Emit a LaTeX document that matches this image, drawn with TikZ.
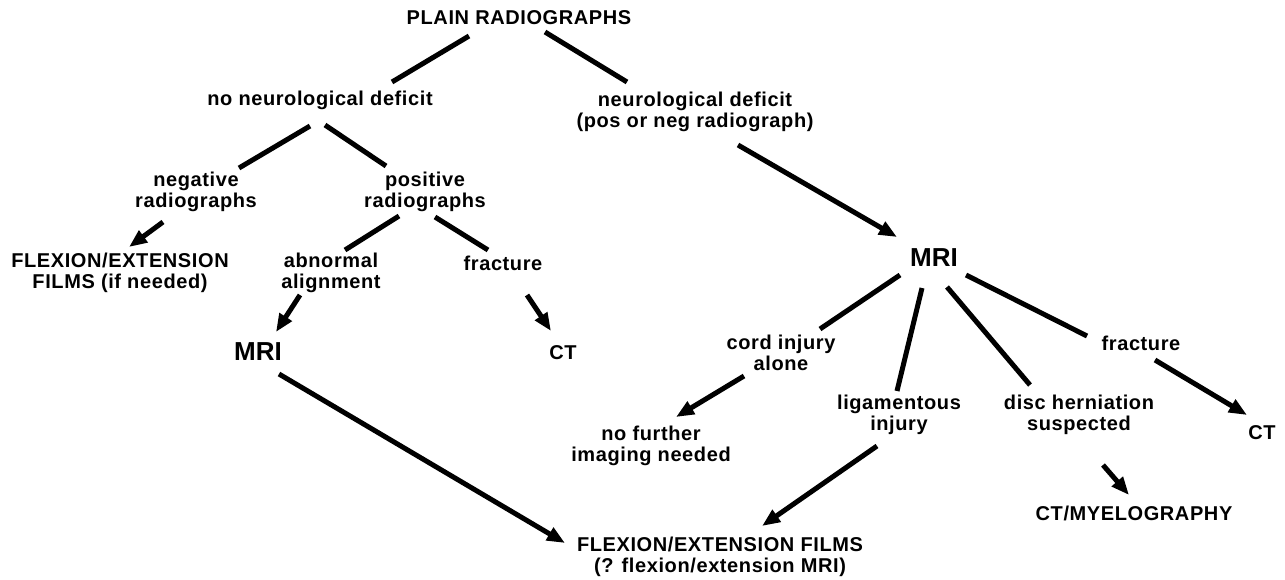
\documentclass[tikz,border=0pt]{standalone}
\usepackage{fontspec}
\usetikzlibrary{arrows.meta}
\newfontfamily\chartfont{Liberation Sans}[LetterSpace=3]
\newfontfamily\mrifont{Liberation Sans}

\tikzset{
  lbl/.style={font=\chartfont\bfseries\fontsize{10}{10.2}\selectfont, align=center, inner sep=0pt},
  big/.style={font=\mrifont\bfseries\fontsize{13}{14}\selectfont, inner sep=0pt},
  link/.style={line width=2.5pt},
  lead/.style={line width=2.5pt, -{Triangle[length=9pt,width=7pt]}}
}

\begin{document}
\begin{tikzpicture}[x=0.5pt,y=-0.5pt]
\useasboundingbox (0,0) rectangle (1285,579);
% top levels
\node[lbl] (plain) at (519,18) {PLAIN RADIOGRAPHS};
\node[lbl] (nodef) at (320,100) {no neurological deficit};
\node[lbl] (def) at (695,112) {neurological deficit\\(pos or neg radiograph)};
% left branch
\node[lbl] (neg) at (196,192) {negative\\radiographs};
\node[lbl] (pos) at (425,192) {positive\\radiographs};
\node[lbl] (flexA) at (120,273) {FLEXION/EXTENSION\\FILMS (if needed)};
\node[lbl] (abn) at (331,273) {abnormal\\alignment};
\node[lbl] (fracA) at (503,263) {fracture};
\node[big] (mriA) at (258,352) {MRI};
\node[lbl] (ctA) at (563,353) {CT};
% right branch
\node[big] (mriB) at (934,258) {MRI};
\node[lbl] (cord) at (781,353) {cord injury\\alone};
\node[lbl] (fracB) at (1141,343) {fracture};
\node[lbl] (lig) at (899,415) {ligamentous\\injury};
\node[lbl] (disc) at (1079,415) {disc herniation\\suspected};
\node[lbl] (ctB) at (1262,433) {CT};
\node[lbl] (nofur) at (651,446) {no further\\imaging needed};
\node[lbl] (myelo) at (1134,513) {CT/MYELOGRAPHY};
\node[lbl] (flexB) at (720,557) {FLEXION/EXTENSION FILMS\\(? flexion/extension MRI)};

% connectors
\draw[link] ([shift={(-50,18)}]plain.center) -- ([shift={(72,-18)}]nodef.center);
\draw[link] ([shift={(26,14)}]plain.center) -- ([shift={(-68,-30)}]def.center);
\draw[link] ([shift={(-10,26)}]nodef.center) -- ([shift={(43,-24)}]neg.center);
\draw[link] ([shift={(5,25)}]nodef.center) -- ([shift={(-39,-26)}]pos.center);
\draw[lead] ([shift={(-33,30)}]neg.center) -- ([shift={(9,-26)}]flexA.center);
\draw[link] ([shift={(-26,24)}]pos.center) -- ([shift={(14,-23)}]abn.center);
\draw[link] ([shift={(10,25)}]pos.center) -- ([shift={(-15,-13)}]fracA.center);
\draw[lead] ([shift={(-31,22)}]abn.center) -- ([shift={(18,-20)}]mriA.center);
\draw[lead] ([shift={(24,32)}]fracA.center) -- ([shift={(-12,-22)}]ctA.center);
\draw[lead] ([shift={(21,22)}]mriA.center) -- ([shift={(-155,-14)}]flexB.center);
\draw[lead] ([shift={(43,33)}]def.center) -- ([shift={(-37,-21)}]mriB.center);
\draw[link] ([shift={(-34,17)}]mriB.center) -- ([shift={(39,-24)}]cord.center);
\draw[link] ([shift={(-12,30)}]mriB.center) -- ([shift={(-2,-24)}]lig.center);
\draw[link] ([shift={(13,29)}]mriB.center) -- ([shift={(-49,-30)}]disc.center);
\draw[link] ([shift={(32,17)}]mriB.center) -- ([shift={(-54,-7)}]fracB.center);
\draw[lead] ([shift={(-37,23)}]cord.center) -- ([shift={(25,-29)}]nofur.center);
\draw[lead] ([shift={(14,17)}]fracB.center) -- ([shift={(-15,-18)}]ctB.center);
\draw[lead] ([shift={(-22,31)}]lig.center) -- ([shift={(42,-31)}]flexB.center);
\draw[lead] ([shift={(24,50)}]disc.center) -- ([shift={(-5,-18)}]myelo.center);
\end{tikzpicture}
\end{document}
